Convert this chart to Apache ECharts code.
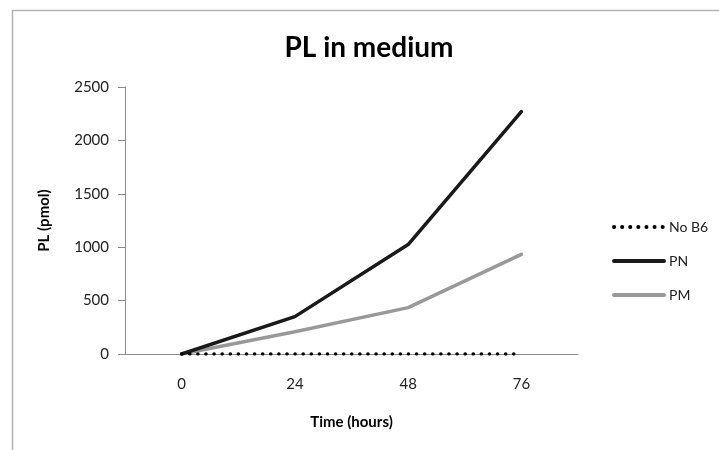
<!DOCTYPE html>
<html>
<head>
<meta charset="utf-8">
<script src="https://cdn.jsdelivr.net/npm/echarts@6/dist/echarts.min.js"></script>
<style>
html,body{margin:0;padding:0;background:#fff;}
#chart{width:719px;height:450px;}
</style>
</head>
<body>
<div id="chart"></div>
<script>
var categories = ['0', '24', '48', '76'];
var noB6 = [0, 0, 0, 0];
var pn = [0, 350, 1025, 2270];
var pm = [0, 208, 434, 933];
var yTicks = [0, 500, 1000, 1500, 2000, 2500];

var FONT = 'Lato, "Open Sans", sans-serif';
var chart = echarts.init(document.getElementById('chart'));
chart.setOption({
  animation: false,
  backgroundColor: '#fff',
  textStyle: {fontFamily: FONT},
  graphic: [{
    type: 'rect', left: 10, top: 8,
    shape: {width: 720, height: 460},
    style: {fill: 'none', stroke: '#b3b3b3', lineWidth: 1.5}
  }],
  title: {
    text: 'PL in medium', left: 364, top: 29, textAlign: 'center',
    textStyle: {fontFamily: FONT, fontSize: 28, fontWeight: 'bold', color: '#000'}
  },
  legend: {
    orient: 'vertical', left: 607, top: 215, itemWidth: 50, itemHeight: 14, itemGap: 20,
    textStyle: {fontFamily: FONT, fontSize: 14, color: '#222'},
    itemStyle: {opacity: 0},
    lineStyle: {width: 4, cap: 'round'},
    data: ['No B6', 'PN', 'PM']
  },
  grid: {left: 125, right: 141, top: 87, bottom: 96},
  xAxis: {
    type: 'category', data: categories, boundaryGap: true,
    name: 'Time (hours)', nameLocation: 'middle', nameGap: 61,
    nameTextStyle: {fontFamily: FONT, fontSize: 15, fontWeight: 'bold', color: '#000'},
    axisLine: {lineStyle: {color: '#8c8c8c', width: 1}},
    axisTick: {show: false},
    axisLabel: {fontFamily: FONT, fontSize: 15, color: '#222', margin: 23}
  },
  yAxis: {
    type: 'value', min: 0, max: 2500, interval: 500,
    name: 'PL (pmol)', nameLocation: 'middle', nameGap: 73,
    nameTextStyle: {fontFamily: FONT, fontSize: 15, fontWeight: 'bold', color: '#000'},
    axisLine: {show: true, lineStyle: {color: '#8c8c8c', width: 1}},
    axisTick: {show: true, length: 7, lineStyle: {color: '#8c8c8c'}},
    splitLine: {show: false},
    axisLabel: {fontFamily: FONT, fontSize: 15, color: '#222', margin: 16,
      formatter: function (v) { return yTicks.indexOf(v) >= 0 ? String(v) : ''; }}
  },
  series: [
    {name: 'No B6', type: 'line', data: noB6, symbol: 'none', z: 3,
     itemStyle: {color: '#000'},
     lineStyle: {color: '#000', width: 3.5, type: [0.1, 8], cap: 'round'}},
    {name: 'PN', type: 'line', data: pn, symbol: 'none', z: 2,
     itemStyle: {color: '#1a1a1a'},
     lineStyle: {color: '#1a1a1a', width: 3.5, cap: 'round', join: 'round'}},
    {name: 'PM', type: 'line', data: pm, symbol: 'none', z: 1,
     itemStyle: {color: '#999999'},
     lineStyle: {color: '#999999', width: 3.5, cap: 'round', join: 'round'}}
  ]
});
</script>
</body>
</html>
